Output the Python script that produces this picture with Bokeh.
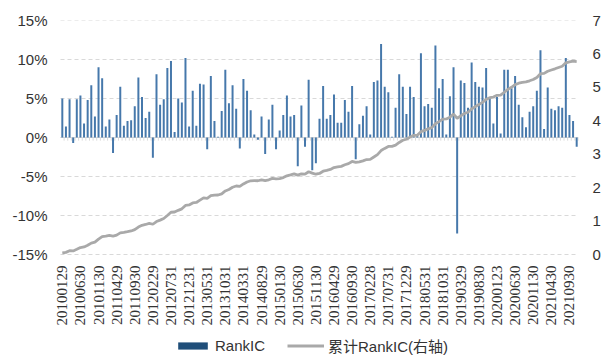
import numpy as np
from bokeh.plotting import figure
from bokeh.models import (ColumnDataSource, Range1d, LinearAxis, FixedTicker,
                          NumeralTickFormatter, Legend, LegendItem)
from bokeh.embed import file_html
from bokeh.resources import INLINE

# tick labels shown every 5 months on the category axis
tick_labels = ["20100129", "20100630", "20101130", "20110429", "20110930",
               "20120229", "20120731", "20121231", "20130531", "20131031",
               "20140331", "20140829", "20150130", "20150630", "20151130",
               "20160429", "20160930", "20170228", "20170731", "20171229",
               "20180531", "20181031", "20190329", "20190830", "20200123",
               "20200630", "20201130", "20210430", "20210930"]
tick_step = 5

# monthly RankIC (%) Jan 2010 .. Nov 2021
rank_ic_pct = [
    5.0, 1.4, 4.9, -0.7, 4.9, 5.4, 1.8, 4.8, 6.7, 2.7,
    9.0, 7.6, 1.4, 2.3, -2.0, 2.9, 6.5, 1.5, 2.1, 2.2,
    4.0, 7.7, 5.2, 2.5, 3.3, -2.6, 8.1, 4.2, 4.9, 8.9,
    9.8, 0.7, 5.0, 4.5, 10.2, 1.4, 6.0, 1.5, 6.9, 6.8,
    -1.5, 7.9, 2.1, 0.1, 3.4, 8.7, 4.4, 6.7, 3.7, -1.4,
    7.5, 6.0, 3.5, 0.4, -0.3, 2.7, -2.1, 2.3, 4.2, -1.5,
    0.9, 2.9, 5.4, 2.7, 2.9, -3.7, 4.1, -1.2, 7.4, -4.2,
    -3.3, 2.4, 6.6, 2.4, 2.9, 5.5, 1.9, 1.9, 4.8, 3.3,
    6.6, -2.8, 1.7, 2.8, 4.0, 0.4, 7.1, 7.3, 12.0, 6.5,
    5.8, 0.1, 3.8, 8.1, 6.5, 3.0, 6.5, 5.2, 0.2, 10.8,
    4.0, 4.3, 3.8, 11.8, 6.3, 7.5, 0.4, 5.3, 9.0, -12.3,
    7.3, 7.0, 3.8, 9.6, 7.1, 6.5, 6.4, 8.9, 5.0, 1.8,
    5.2, 0.5, 8.7, 8.7, 6.3, 7.9, 4.2, 2.6, 1.3, 3.3,
    4.0, 6.0, 11.2, 1.1, 6.4, 3.7, 3.5, 4.0, 3.8, 10.2,
    2.9, 2.1, -1.2,
]
left_ticks = [-0.15, -0.10, -0.05, 0.0, 0.05, 0.10, 0.15]
right_ticks = [0, 1, 2, 3, 4, 5, 6, 7]

series_bar = "RankIC"
series_line = "累计RankIC(右轴)"

n = len(rank_ic_pct)
idx = np.arange(n)
ic = np.array(rank_ic_pct) / 100.0
cum_ic = np.cumsum(ic)  # cumulative RankIC (right axis)
src = ColumnDataSource(dict(x=idx, ic=ic, cum=cum_ic))

FONT = "'Liberation Sans', Arial, 'Noto Sans CJK SC'"
TXT = "#333333"

# ---- layout geometry (pixels) ----
PLOT_W = 518        # width of the bar area
PLOT_H = 234        # height of the -15%..15% area
PAD_L = 10          # extra frame on the left so the first rotated label fits
BELOW = 109         # room under the bar area for date labels + legend
px_units = n / PLOT_W
pad_units = PAD_L * px_units
yl_per_px = (left_ticks[-1] - left_ticks[0]) / PLOT_H
yr_per_px = (right_ticks[-1] - right_ticks[0]) / PLOT_H

p = figure(frame_width=PLOT_W + PAD_L, frame_height=PLOT_H + BELOW,
           x_range=Range1d(-0.5 - pad_units, n - 0.5),
           y_range=Range1d(left_ticks[0] - BELOW * yl_per_px, left_ticks[-1]),
           x_axis_location=None,
           output_backend="svg", toolbar_location=None,
           min_border_left=50, min_border_right=31, min_border_top=20,
           min_border_bottom=0)
p.outline_line_color = None
p.background_fill_color = "white"
p.border_fill_color = "white"
p.xgrid.grid_line_color = None
p.ygrid.grid_line_color = None

# dashed horizontal gridlines across the bar area only
k = len(left_ticks)
p.segment(x0=[-0.5] * k, y0=left_ticks, x1=[n - 0.5] * k, y1=left_ticks,
          line_color="#d9d9d9", line_width=1, line_dash="4 3")

# zero line with category tick marks
p.segment(x0=[-0.5], y0=[0.0], x1=[n - 0.5], y1=[0.0],
          line_color="#d9d9d9", line_width=1)
bounds = idx + 0.5
p.segment(x0=bounds, y0=np.zeros(n), x1=bounds, y1=np.full(n, -0.004),
          line_color="#d9d9d9", line_width=1)

bars = p.vbar(x="x", top="ic", bottom=0, width=0.55, source=src,
              fill_color="#4678ab", line_color=None)

p.extra_y_ranges = {"cum": Range1d(right_ticks[0] - BELOW * yr_per_px, right_ticks[-1])}
right = LinearAxis(y_range_name="cum", ticker=FixedTicker(ticks=right_ticks))
p.add_layout(right, "right")

line = p.line(x="x", y="cum", source=src, y_range_name="cum",
              line_color="#a9a9a9", line_width=2.8)

ya = p.yaxis[0]
ya.ticker = FixedTicker(ticks=left_ticks)
ya.formatter = NumeralTickFormatter(format="0%")
for ax, standoff in [(ya, 3), (right, 14)]:
    ax.axis_line_color = None
    ax.major_tick_line_color = None
    ax.minor_tick_line_color = None
    ax.major_tick_out = 0
    ax.major_tick_in = 0
    ax.minor_tick_out = 0
    ax.minor_tick_in = 0
    ax.major_label_text_font = FONT
    ax.major_label_text_font_size = "15px"
    ax.major_label_text_color = TXT
    ax.major_label_standoff = standoff

# rotated date labels under the bar area
tick_x = [i * tick_step for i in range(len(tick_labels))]
label_top = left_ticks[0] - 11 * yl_per_px
lab_src = ColumnDataSource(dict(x=tick_x, y=[label_top] * len(tick_x), t=tick_labels))
p.text(x="x", y="y", text="t", source=lab_src, angle=np.pi / 2,
       text_align="right", text_baseline="middle",
       text_font=FONT, text_font_size="15px", text_color=TXT)

# legend (dummy renderers for swatches)
leg_src = ColumnDataSource(dict(x=[np.nan], top=[np.nan], y=[np.nan]))
leg_bar = p.vbar(x="x", top="top", width=0.5, source=leg_src,
                 fill_color="#1f4e79", line_color=None)
leg_line = p.line(x="x", y="y", source=leg_src, line_color="#a9a9a9", line_width=2.8)
legend = Legend(items=[LegendItem(label=series_bar, renderers=[leg_bar]),
                       LegendItem(label=series_line, renderers=[leg_line])],
                orientation="horizontal", location=(124, 7))
legend.label_text_font = FONT
legend.label_text_font_size = "15px"
legend.label_text_color = TXT
legend.label_height = 16
legend.glyph_width = 37
legend.glyph_height = 9
legend.label_standoff = 4
legend.spacing = 22
legend.padding = 0
legend.margin = 0
legend.border_line_color = None
legend.background_fill_alpha = 0
p.add_layout(legend, "center")

open("out.html", "w").write(file_html(p, INLINE))
